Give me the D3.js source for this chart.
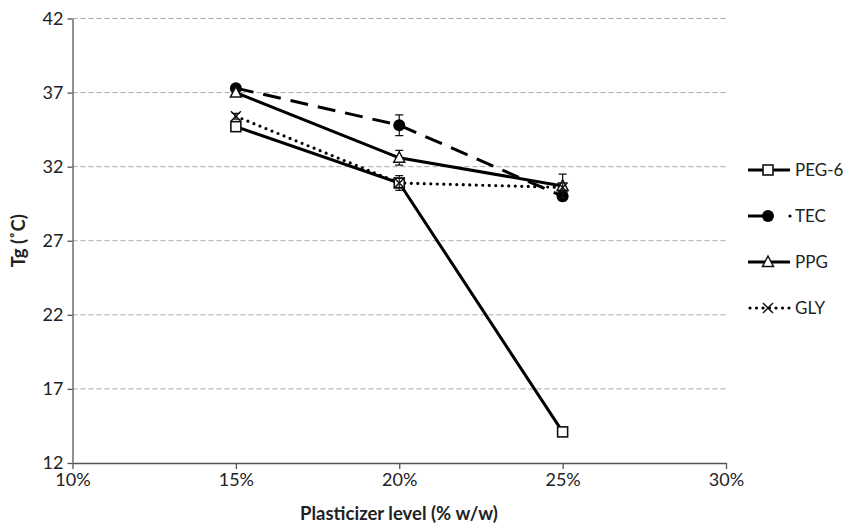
<!DOCTYPE html>
<html>
<head>
<meta charset="utf-8">
<script src="https://cdn.jsdelivr.net/npm/d3@7"></script>
<style>
  body { margin: 0; background: #fff; }
  text { font-family: Lato, "Open Sans", sans-serif; fill: #222; }
</style>
</head>
<body>
<script>
const width = 845;
const height = 527;

const levels = [0.15, 0.20, 0.25];
const xTicks = [0.10, 0.15, 0.20, 0.25, 0.30];
const yTicks = [12, 17, 22, 27, 32, 37, 42];

const pegValues = [34.7, 30.9, 14.1];
const pegErrors = [0.3, 0.5, 0.3];
const tecValues = [37.3, 34.8, 30.0];
const tecErrors = [0.2, 0.7, 0.3];
const ppgValues = [37.0, 32.6, 30.7];
const ppgErrors = [0.2, 0.5, 0.8];
const glyValues = [35.4, 30.9, 30.6];
const glyErrors = [0.2, 0.3, 0.3];

const seriesNames = ['PEG-6', 'TEC', 'PPG', 'GLY'];

const series = [
  { name: seriesNames[0], values: pegValues, errors: pegErrors, dash: null, marker: 'square' },
  { name: seriesNames[1], values: tecValues, errors: tecErrors, dash: '18,10', marker: 'circle' },
  { name: seriesNames[2], values: ppgValues, errors: ppgErrors, dash: null, marker: 'triangle' },
  { name: seriesNames[3], values: glyValues, errors: glyErrors, dash: '0,6.5', marker: 'cross' }
];

const svg = d3.select('body').append('svg')
  .attr('width', width)
  .attr('height', height);

const xScale = d3.scaleLinear().domain([0.10, 0.30]).range([72.5, 726]);
const yScale = d3.scaleLinear().domain([12, 42]).range([463, 18.5]);

// gridlines
svg.append('g')
  .selectAll('line')
  .data(yTicks.slice(1))
  .enter()
  .append('line')
  .attr('x1', xScale(0.10))
  .attr('x2', xScale(0.30))
  .attr('y1', d => yScale(d))
  .attr('y2', d => yScale(d))
  .attr('stroke', '#a6a6a6')
  .attr('stroke-width', 1)
  .attr('stroke-dasharray', '5,3');

// axes
const xAxis = d3.axisBottom(xScale)
  .tickValues(xTicks)
  .tickSize(6)
  .tickSizeOuter(0)
  .tickFormat(d3.format('.0%'));
const gx = svg.append('g')
  .attr('transform', `translate(0, ${yScale(12)})`)
  .call(xAxis);
gx.selectAll('text').attr('font-size', 18).attr('y', 8).attr('dy', '0.85em');

const yAxis = d3.axisLeft(yScale)
  .tickValues(yTicks)
  .tickSize(5)
  .tickSizeOuter(0)
  .tickFormat(d3.format('d'));
const gy = svg.append('g')
  .attr('transform', `translate(${xScale(0.10)}, 0)`)
  .call(yAxis);
gy.selectAll('text').attr('font-size', 18).attr('x', -9);

svg.selectAll('.domain, .tick line').attr('stroke', '#555').attr('stroke-width', 1.3);
svg.selectAll('.tick text').style('fill', '#222').attr('font-family', 'Lato, "Open Sans", sans-serif');

// axis titles
svg.append('text')
  .attr('x', 399)
  .attr('y', 520)
  .attr('text-anchor', 'middle')
  .attr('font-size', 18.5)
  .attr('font-weight', 'bold')
  .text('Plasticizer level (% w/w)');

svg.append('text')
  .attr('transform', `translate(25, ${yScale(27)}) rotate(-90)`)
  .attr('text-anchor', 'middle')
  .attr('font-size', 18.5)
  .attr('font-weight', 'bold')
  .text('Tg (˚C)');

// lines
const line = d3.line()
  .x((d, i) => xScale(levels[i]))
  .y(d => yScale(d));

function drawMarker(g, type, x, y) {
  if (type === 'square') {
    g.append('rect')
      .attr('x', x - 5).attr('y', y - 5)
      .attr('width', 10).attr('height', 10)
      .attr('fill', '#fff').attr('stroke', '#111').attr('stroke-width', 1.6);
  } else if (type === 'circle') {
    g.append('circle')
      .attr('cx', x).attr('cy', y).attr('r', 6)
      .attr('fill', '#000');
  } else if (type === 'triangle') {
    g.append('path')
      .attr('d', `M${x},${y - 6}L${x + 5.5},${y + 4.5}L${x - 5.5},${y + 4.5}Z`)
      .attr('fill', '#fff').attr('stroke', '#111').attr('stroke-width', 1.5);
  } else if (type === 'cross') {
    g.append('path')
      .attr('d', `M${x - 5},${y - 5}L${x + 5},${y + 5}M${x + 5},${y - 5}L${x - 5},${y + 5}`)
      .attr('stroke', '#111').attr('stroke-width', 1.5);
  }
}

series.forEach(s => {
  svg.append('path')
    .datum(s.values)
    .attr('d', line)
    .attr('fill', 'none')
    .attr('stroke', '#000')
    .attr('stroke-width', s.marker === 'cross' ? 3.2 : 3)
    .attr('stroke-linecap', s.marker === 'cross' ? 'round' : 'butt')
    .attr('stroke-dasharray', s.dash);
});

series.forEach(s => {
  const g = svg.append('g');
  s.values.forEach((v, i) => {
    const px = xScale(levels[i]);
    const py = yScale(v);
    const y0 = yScale(v - s.errors[i]);
    const y1 = yScale(v + s.errors[i]);
    g.append('path')
      .attr('d', `M${px},${y0}L${px},${y1}M${px - 4},${y0}L${px + 4},${y0}M${px - 4},${y1}L${px + 4},${y1}`)
      .attr('stroke', '#111')
      .attr('stroke-width', 1.2)
      .attr('fill', 'none');
    drawMarker(g, s.marker, px, py);
  });
});

// legend
const legendY = d3.scalePoint().domain(seriesNames).range([170, 308]);
series.forEach(s => {
  const ly = legendY(s.name);
  const g = svg.append('g');
  if (s.marker === 'circle') {
    g.append('line')
      .attr('x1', 748).attr('x2', 768).attr('y1', ly).attr('y2', ly)
      .attr('stroke', '#000').attr('stroke-width', 3);
    g.append('circle').attr('cx', 790).attr('cy', ly).attr('r', 1.6).attr('fill', '#000');
  } else {
    g.append('line')
      .attr('x1', s.marker === 'cross' ? 750 : 748).attr('x2', 790).attr('y1', ly).attr('y2', ly)
      .attr('stroke', '#000').attr('stroke-width', s.marker === 'cross' ? 3.2 : 3)
      .attr('stroke-linecap', s.marker === 'cross' ? 'round' : 'butt')
      .attr('stroke-dasharray', s.marker === 'cross' ? '0,6.5' : null);
  }
  drawMarker(g, s.marker, 768, ly);
  g.append('text')
    .attr('x', 795)
    .attr('y', ly)
    .attr('dy', '0.35em')
    .attr('font-size', 17)
    .text(s.name);
});
</script>
</body>
</html>
